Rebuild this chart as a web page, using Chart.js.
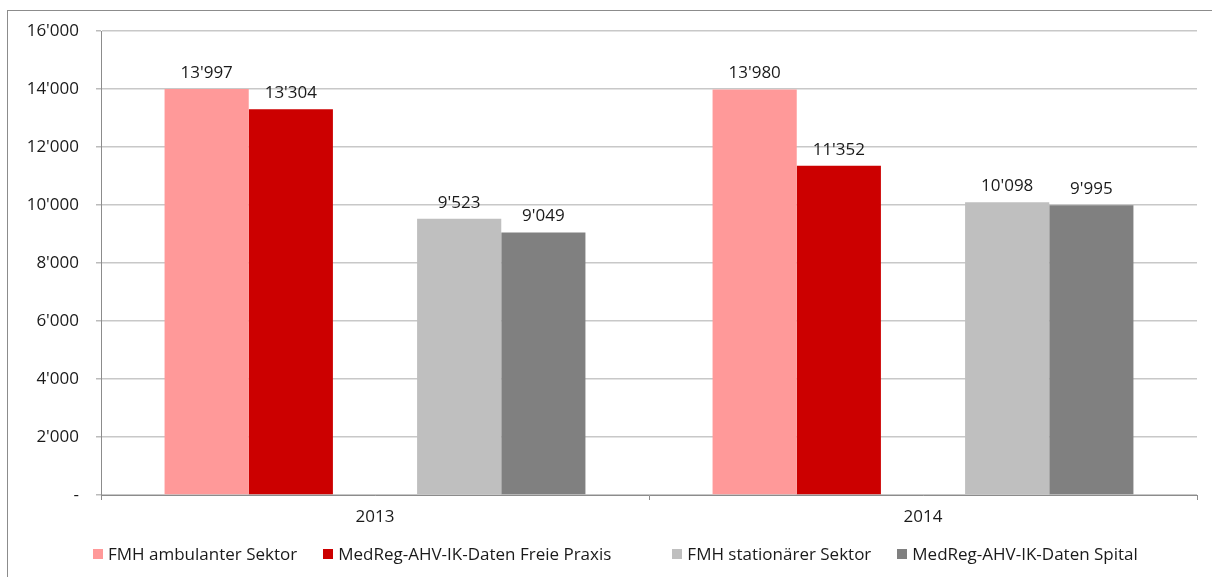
<!DOCTYPE html>
<html>
<head>
<meta charset="utf-8">
<script src="https://cdn.jsdelivr.net/npm/chart.js@4"></script>
<style>
  body { margin: 0; background: #fff; font-family: "Open Sans", sans-serif; }
  .wrap { position: relative; width: 1212px; height: 577px; overflow: hidden; }
  .frame { position: absolute; left: 7px; top: 10px; width: 1300px; height: 700px;
           border-left: 1px solid #8c8c8c; border-top: 1px solid #8c8c8c; }
  canvas { position: absolute; left: 0; top: 0; }
  .legend { position: absolute; left: 93px; top: 542px; display: flex; align-items: center;
            font-size: 17px; color: #1a1a1a; white-space: nowrap; }
  .legend span.item { display: inline-flex; align-items: center; margin-right: 26px; }
  .legend span.item.wide { margin-right: 61px; }
  .legend i { display: inline-block; width: 10px; height: 10px; margin-right: 5px; }
</style>
</head>
<body>
<div class="wrap">
  <div class="frame"></div>
  <canvas id="chart" width="1212" height="577"></canvas>
  <div class="legend" id="legend"></div>
</div>
<script>
// years and series
const years = ["2013", "2014"];
const fmhAmbulant = [13997, 13980];
const medregPraxis = [13304, 11352];
const fmhStationaer = [9523, 10098];
const medregSpital = [9049, 9995];
const yTicks = [0, 2000, 4000, 6000, 8000, 10000, 12000, 14000, 16000];

const seriesNames = ["FMH ambulanter Sektor", "MedReg-AHV-IK-Daten Freie Praxis", "FMH stationärer Sektor", "MedReg-AHV-IK-Daten Spital"];
const seriesColors = ["#ff9999", "#cc0000", "#bfbfbf", "#808080"];

// thousands with apostrophe, zero as dash
function fmt(v) {
  if (v === 0) return "-";
  return String(Math.round(v)).replace(/\B(?=(\d{3})+(?!\d))/g, "'");
}

// value labels above bars
const barLabels = {
  id: "barLabels",
  afterDatasetsDraw(chart) {
    const ctx = chart.ctx;
    ctx.save();
    ctx.font = "17px 'Open Sans'";
    ctx.fillStyle = "#1a1a1a";
    ctx.textAlign = "center";
    ctx.textBaseline = "middle";
    chart.data.datasets.forEach((ds, i) => {
      if (ds.blank) return;
      chart.getDatasetMeta(i).data.forEach((bar, j) => {
        ctx.fillText(fmt(ds.data[j]), bar.x, bar.y - 16);
      });
    });
    ctx.restore();
  }
};

Chart.defaults.font.family = "'Open Sans', sans-serif";
Chart.defaults.font.size = 17;
Chart.defaults.color = "#1a1a1a";

const seriesData = [fmhAmbulant, medregPraxis, fmhStationaer, medregSpital];
const datasets = [];
seriesData.forEach((d, i) => {
  datasets.push({ label: seriesNames[i], data: d, backgroundColor: seriesColors[i] });
  // empty slot between the red and grey pairs
  if (i === 1) datasets.push({ label: "", data: years.map(() => null), blank: true });
});

new Chart(document.getElementById("chart"), {
  type: "bar",
  data: { labels: years, datasets: datasets },
  options: {
    responsive: false,
    animation: false,
    layout: { padding: { top: 31, right: 15, bottom: 0, left: 0 } },
    datasets: { bar: { categoryPercentage: 0.768, barPercentage: 1 } },
    plugins: { legend: { display: false }, tooltip: { enabled: false } },
    scales: {
      x: {
        grid: { drawOnChartArea: false, drawTicks: true, tickLength: 5, color: "#8c8c8c", offset: true },
        border: { color: "#8c8c8c", width: 1 },
        ticks: { padding: 7 },
        afterFit: (s) => { s.height = 82; }
      },
      y: {
        min: 0,
        max: 16000,
        afterBuildTicks: (s) => { s.ticks = yTicks.map((v) => ({ value: v })); },
        grid: { color: "#c8c8c8", lineWidth: 1.5, tickLength: 5, tickColor: "#bbbbbb" },
        border: { color: "#8c8c8c", width: 1 },
        ticks: { padding: 17, callback: (v) => fmt(v) },
        afterFit: (s) => { s.width = 101; }
      }
    }
  },
  plugins: [barLabels]
});

// legend row, with the wider gap after the second entry
const legend = document.getElementById("legend");
seriesNames.forEach((name, i) => {
  const item = document.createElement("span");
  item.className = i === 1 ? "item wide" : "item";
  item.innerHTML = '<i style="background:' + seriesColors[i] + '"></i>' + name;
  legend.appendChild(item);
});
</script>
</body>
</html>
